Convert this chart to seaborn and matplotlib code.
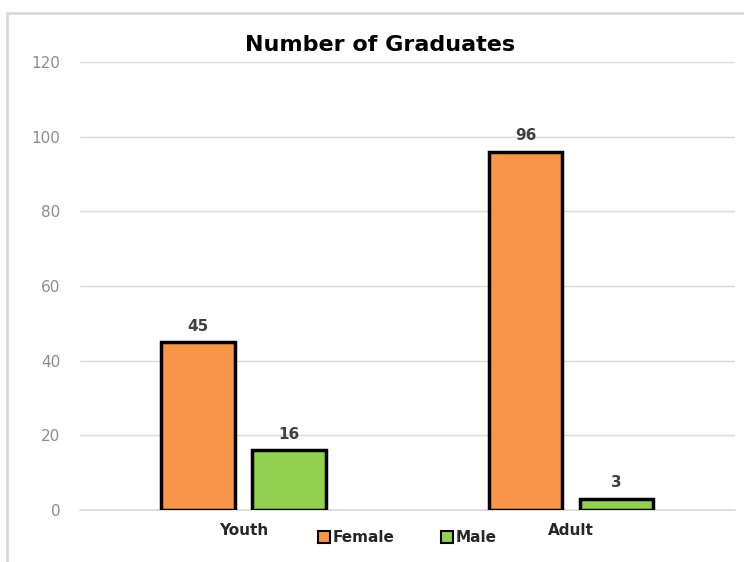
import pandas as pd
import matplotlib.pyplot as plt
import seaborn as sns

# Data
groups = ["Youth", "Adult"]
genders = ["Female", "Male"]
female_counts = [45, 96]
male_counts = [16, 3]

df = pd.DataFrame({
    "Group": groups * 2,
    "Gender": ["Female"] * 2 + ["Male"] * 2,
    "Count": female_counts + male_counts,
})

sns.set_style("white")
plt.rcParams["font.family"] = ["DejaVu Sans"]

fig = plt.figure(figsize=(7.44, 5.62), dpi=100)
ax = fig.add_axes([0.1075, 0.0925, 0.88, 0.797])

palette = {"Female": "#F79646", "Male": "#92D050"}
sns.barplot(data=df, x="Group", y="Count", hue="Gender", hue_order=genders,
            order=groups, palette=palette, width=0.556, gap=0.19,
            edgecolor="black", linewidth=2.5, saturation=1, ax=ax, zorder=3)

# value labels
for cont in ax.containers:
    ax.bar_label(cont, fmt="%d", padding=6, fontsize=11, fontweight="bold",
                 color="#404040")

ax.set_ylim(0, 120)
ax.set_yticks(range(0, 121, 20))
ax.yaxis.grid(True, color="#D9D9D9", linewidth=1, zorder=0)
ax.axhline(0, color="#D9D9D9", linewidth=1.2, zorder=1, clip_on=False)
ax.set_axisbelow(True)
for s in ax.spines.values():
    s.set_visible(False)
ax.tick_params(axis="y", length=0, labelsize=11, labelcolor="#8C8C8C", pad=14)
ax.tick_params(axis="x", length=0, pad=9)
for lbl in ax.get_xticklabels():
    lbl.set_fontweight("bold")
    lbl.set_fontsize(11)
ax.set_xlabel("")
ax.set_ylabel("")

ax.set_title("Number of Graduates", fontsize=16, fontweight="bold", pad=8,
             color="black", x=0.458)

leg = ax.legend(loc="center", bbox_to_anchor=(0.5, -0.062), ncol=2,
                frameon=False, handlelength=0.8, handleheight=0.8,
                handletextpad=0.2, columnspacing=3.0,
                prop={"weight": "bold", "size": 11})
for h in leg.legend_handles:
    h.set_edgecolor("black")
    h.set_linewidth(1.5)

# outer chart border
fig.patches.append(plt.Rectangle((0.009, -0.05), 1.1, 1.027, transform=fig.transFigure,
                                 fill=False, edgecolor="#D9D9D9", linewidth=2))

fig.savefig("out.png", dpi=100)
